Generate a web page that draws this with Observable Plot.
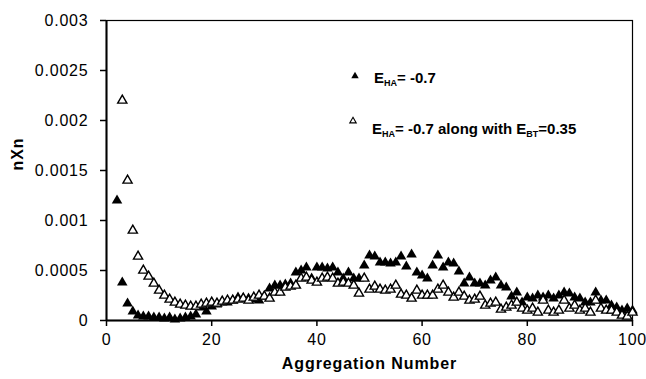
<!DOCTYPE html>
<html>
<head>
<meta charset="utf-8">
<script src="https://cdn.jsdelivr.net/npm/d3@7"></script>
<script src="https://cdn.jsdelivr.net/npm/@observablehq/plot@0.6"></script>
<style>
  html, body { margin: 0; padding: 0; background: white; }
  #chart { width: 646px; height: 379px; }
</style>
</head>
<body>
<div id="chart"></div>
<script>
// Aggregation number n (x) and nXn values for the two series (null = no point)
const aggregationNumber = [
  1,2,3,4,5,6,7,8,9,10,11,12,13,14,15,16,17,18,19,20,
  21,22,23,24,25,26,27,28,29,30,31,32,33,34,35,36,37,38,39,40,
  41,42,43,44,45,46,47,48,49,50,51,52,53,54,55,56,57,58,59,60,
  61,62,63,64,65,66,67,68,69,70,71,72,73,74,75,76,77,78,79,80,
  81,82,83,84,85,86,87,88,89,90,91,92,93,94,95,96,97,98,99,100
];
// E_HA = -0.7 (filled triangles)
const seriesHA = [
  null,0.0012,0.00038,0.00017,0.00009,0.00005,0.00004,0.00004,0.00003,0.00003,
  0.00002,0.00003,0.00001,0.00002,0.00003,0.00004,0.00006,0.00013,0.00009,0.00014,
  0.00016,0.00018,0.00018,0.0002,0.00023,0.00022,0.00022,0.00021,0.0002,0.00024,
  0.00032,0.00035,0.00035,0.00036,0.00037,0.00048,0.0005,0.00053,0.00042,0.00053,
  0.00053,0.00052,0.00053,0.00048,0.00042,0.00048,0.00042,0.00042,0.00055,0.00065,
  0.00064,0.00058,0.00058,0.00057,0.00058,0.00064,0.00054,0.00066,0.00048,0.00045,
  0.00042,0.00055,0.00065,0.00053,0.00058,0.00057,0.00049,0.00037,0.00043,0.00037,
  0.00037,0.00035,0.0004,0.00043,0.00035,0.00033,0.00024,0.00028,0.00018,0.00023,
  0.00022,0.00025,0.00023,0.00025,0.00022,0.00025,0.00028,0.00027,0.00023,0.00022,
  0.00018,0.00018,0.00028,0.0002,0.0002,0.00015,0.00013,0.0001,0.00012,0.0001
];
// E_HA = -0.7 along with E_BT = 0.35 (open triangles)
const seriesHABT = [
  null,null,0.0022,0.0014,0.0009,0.00064,0.0005,0.00044,0.00037,0.0003,
  0.00025,0.00021,0.00018,0.00016,0.00015,0.00014,0.00014,0.00016,0.00017,0.00018,
  0.00017,0.00019,0.0002,0.0002,0.00021,0.00022,0.0002,0.00023,0.00025,0.00024,
  0.00022,0.00028,0.00028,0.00033,0.00034,0.00035,0.00042,0.00043,0.0004,0.00038,
  0.00042,0.00043,0.00042,0.00037,0.00038,0.00037,0.00035,0.00027,0.00042,0.00031,
  0.00034,0.00031,0.0003,0.00031,0.00035,0.00026,0.00025,0.00022,0.0003,0.00025,
  0.00025,0.00025,0.00031,0.00035,0.00028,0.00023,0.00028,0.00024,0.0002,0.00021,
  0.00024,0.00015,0.00017,0.00018,0.00011,0.00013,0.00015,0.00018,0.00012,0.0001,
  0.00012,0.00008,0.0002,0.0001,0.00008,0.0001,0.0002,0.00012,0.00015,0.0001,
  0.00012,0.00008,0.0002,0.00012,0.0001,0.0001,0.00008,0.00005,0.00004,0.00008
];
const xTicks = [0, 20, 40, 60, 80, 100];
const yTicks = [0, 0.0005, 0.001, 0.0015, 0.002, 0.0025, 0.003];
const yTickLabels = ["0", "0.0005", "0.001", "0.0015", "0.002", "0.0025", "0.003"];
const xTitle = "Aggregation Number";
const yTitle = "nXn";

const rowsHA = aggregationNumber.map((n, i) => ({n, v: seriesHA[i]})).filter(d => d.v != null);
const rowsHABT = aggregationNumber.map((n, i) => ({n, v: seriesHABT[i]})).filter(d => d.v != null);

const font = "'Liberation Sans', Arial, sans-serif";

const svg = Plot.plot({
  width: 646,
  height: 379,
  marginLeft: 106,
  marginRight: 14,
  marginTop: 20,
  marginBottom: 59,
  style: {fontFamily: font, fontSize: "16px", background: "white", color: "black", overflow: "visible"},
  x: {domain: [0, 100]},
  y: {domain: [0, 0.003]},
  marks: [
    Plot.frame({stroke: "black", strokeWidth: 1.2}),
    Plot.axisX({ticks: xTicks, tickSize: 6, tickPadding: 7, tickFormat: d => String(d), label: null, fontSize: 16, strokeWidth: 1.5}),
    Plot.axisY({ticks: yTicks, tickSize: 6, tickPadding: 12, tickFormat: (d, i) => yTickLabels[yTicks.indexOf(d)], label: null, fontSize: 16, strokeWidth: 1.5}),
    Plot.ruleX([0], {stroke: "black", strokeWidth: 2}),
    Plot.ruleY([0], {stroke: "black", strokeWidth: 2}),
    Plot.dot(rowsHA, {x: "n", y: "v", symbol: "triangle", r: 3.9, fill: "black", stroke: "none"}),
    Plot.dot(rowsHABT, {x: "n", y: "v", symbol: "triangle", r: 3.4, fill: "white", stroke: "black", strokeWidth: 1.4}),
    Plot.text([xTitle], {frameAnchor: "bottom", dy: 48, text: d => d, fontWeight: "bold", fontSize: 16, fill: "black"}),
    Plot.text([yTitle], {frameAnchor: "left", dx: -89, rotate: -90, text: d => d, fontWeight: "bold", fontSize: 16, fill: "black"})
  ]
});

// Slightly wider lettering, as in the reference
d3.select(svg).selectAll("[aria-label='x-axis tick label'] text, [aria-label='y-axis tick label'] text").attr("letter-spacing", "0.8px");
d3.select(svg).selectAll("[aria-label='text'] text").attr("letter-spacing", "0.9px");

// Legend (inside plot area)
const s = d3.select(svg);
const g = s.append("g").attr("font-family", font).attr("font-weight", "bold").attr("fill", "black").attr("text-anchor", "start");
g.append("path").attr("d", d3.symbol(d3.symbolTriangle, 24)()).attr("transform", "translate(355,76)").attr("fill", "black");
g.append("path").attr("d", d3.symbol(d3.symbolTriangle, 18)()).attr("transform", "translate(353,121)").attr("fill", "white").attr("stroke", "black").attr("stroke-width", 1.1);

function legendLine(x, y, parts) {
  const t = g.append("text").attr("x", x).attr("y", y).attr("font-size", 15).attr("text-anchor", "start");
  parts.forEach(p => {
    const ts = t.append("tspan").text(p.t);
    if (p.sub) ts.attr("font-size", 9).attr("dy", 3);
    else if (p.after) ts.attr("dy", -3);
  });
}
legendLine(374, 83, [{t: "E"}, {t: "HA", sub: true}, {t: "= -0.7", after: true}]);
legendLine(372, 134, [{t: "E"}, {t: "HA", sub: true}, {t: "= -0.7 along with E", after: true}, {t: "BT", sub: true}, {t: "=0.35", after: true}]);

document.getElementById("chart").appendChild(svg);
</script>
</body>
</html>
